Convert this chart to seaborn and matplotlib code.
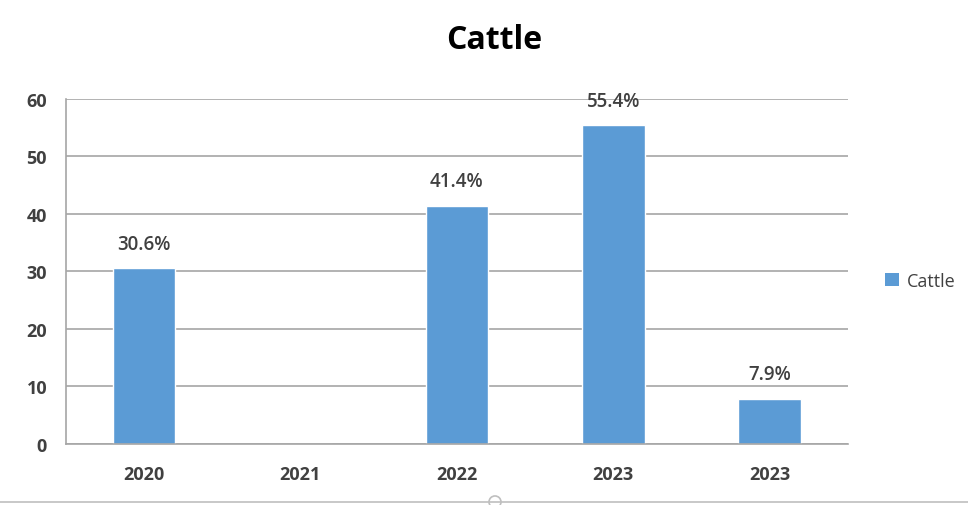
import numpy as np
import pandas as pd
import matplotlib
matplotlib.use('Agg')
import matplotlib.pyplot as plt
from matplotlib.lines import Line2D
from matplotlib.patches import Patch, Ellipse
import seaborn as sns

# data
years = ['2020', '2021', '2022', '2023', '2023']
cattle = [30.6, 0.0, 41.4, 55.4, 7.9]
value_labels = ['30.6%', '', '41.4%', '55.4%', '7.9%']

df = pd.DataFrame({'slot': range(len(years)), 'value': cattle})

sns.set_style('white')
plt.rcParams['font.family'] = ['Open Sans', 'DejaVu Sans']

bar_color = '#5B9BD5'
grid_color = '#A6A6A6'
text_color = '#404040'

fig = plt.figure(figsize=(9.68, 5.06), dpi=100)
ax = fig.add_axes([0.068, 0.1206, 0.808, 0.6818])

sns.barplot(data=df, x='slot', y='value', color=bar_color, width=0.4,
            saturation=1, ax=ax, legend=False)

ax.set_xlim(-0.5, len(years) - 0.5)
ax.set_ylim(0, 60)
ax.set_yticks(np.arange(0, 61, 10))
ax.set_xlabel('')
ax.set_ylabel('')

# horizontal gridlines
ax.grid(axis='y', color=grid_color, linewidth=1.2)
ax.set_axisbelow(True)

for side in ['top', 'right']:
    ax.spines[side].set_visible(False)
for side in ['left', 'bottom']:
    ax.spines[side].set_color(grid_color)
    ax.spines[side].set_linewidth(1.2)

# x labels on categories, tick marks on the category boundaries
ax.set_xticks(range(len(years)))
ax.set_xticklabels(years)
ax.set_xticks(np.arange(-0.5, len(years), 1.0), minor=True)
ax.tick_params(axis='x', which='major', length=0, pad=15)
ax.tick_params(axis='x', which='minor', length=6, width=1.2, color=grid_color)
ax.tick_params(axis='y', length=6.5, width=1.2, color=grid_color, pad=7)
for lab in ax.get_xticklabels() + ax.get_yticklabels():
    lab.set_fontsize(13)
    lab.set_fontweight('bold')
    lab.set_color(text_color)

for x, v, t in zip(df['slot'], cattle, value_labels):
    if t:
        ax.annotate(t, (x, v), xytext=(0, 14), textcoords='offset points',
                    ha='center', va='baseline', fontsize=13.5,
                    fontweight='semibold', color=text_color)

fig.text(0.511, 0.919, 'Cattle', ha='center', va='center', fontsize=23,
         fontweight='bold', color='#000000')

handles = [Patch(facecolor=bar_color, edgecolor='none', label='Cattle')]
fig.legend(handles=handles, loc='center left', bbox_to_anchor=(0.897, 0.443),
           frameon=False, fontsize=13, handlelength=0.8, handleheight=0.8,
           handletextpad=0.45, labelcolor=text_color)

# bottom frame line of the screenshot, with its little knob
fig.add_artist(Line2D([0, 1], [0.006, 0.006], color='#BFBFBF', linewidth=1.2))
fig.add_artist(Ellipse((495 / 968, 0.006), width=12 / 968, height=12 / 506,
                       transform=fig.transFigure, facecolor='white',
                       edgecolor='#BFBFBF', linewidth=1.2))

fig.savefig('out.png', dpi=100)
